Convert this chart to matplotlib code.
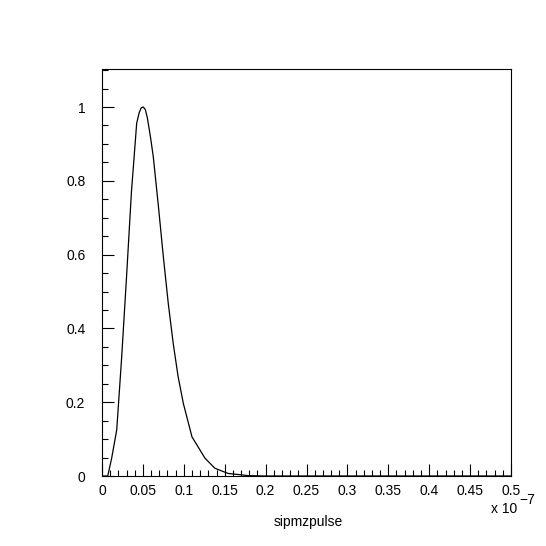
import numpy as np
import matplotlib
matplotlib.use("Agg")
import matplotlib.pyplot as plt
from matplotlib.ticker import MultipleLocator, FuncFormatter

plt.rcParams['font.family'] = ['Liberation Sans', 'DejaVu Sans']

# pulse shape, time in units of 1e-7 s
t = [0.0, 0.007, 0.0118, 0.018, 0.024, 0.030, 0.036, 0.0424, 0.0455, 0.048,
     0.0505, 0.053, 0.0555, 0.0595, 0.0627, 0.069, 0.075, 0.081, 0.087, 0.093,
     0.0994, 0.110, 0.126, 0.138, 0.154, 0.179, 0.2, 0.3, 0.4, 0.5]
amp = [0.0, 0.0, 0.048, 0.125, 0.32, 0.54, 0.77, 0.956, 0.985, 0.998,
       1.0, 0.993, 0.97, 0.915, 0.865, 0.73, 0.594, 0.468, 0.36, 0.27,
       0.197, 0.106, 0.048, 0.021, 0.007, 0.001, 0.0, 0.0, 0.0, 0.0]

fig = plt.figure(figsize=(5.46, 5.46), dpi=100)
ax = fig.add_axes([102/546, 70/546, 409/546, 407/546])

ax.plot(t, amp, color='black', linewidth=0.9)

ax.set_xlim(0, 0.5)
ax.set_ylim(0, 1.103)
ax.xaxis.set_major_locator(MultipleLocator(0.05))
ax.xaxis.set_minor_locator(MultipleLocator(0.01))
ax.yaxis.set_major_locator(MultipleLocator(0.2))
ax.yaxis.set_minor_locator(MultipleLocator(0.05))
fmt = FuncFormatter(lambda v, p: '%g' % round(v, 2))
ax.xaxis.set_major_formatter(fmt)
ax.yaxis.set_major_formatter(fmt)

ax.tick_params(which='both', direction='in', top=False, right=False, labelsize=10)
ax.tick_params(which='major', length=8.5, width=0.8)
ax.tick_params(which='minor', length=4.3, width=0.8)
ax.tick_params(axis='x', pad=6)
ax.tick_params(axis='y', pad=12)
for s in ax.spines.values():
    s.set_linewidth(0.8)

# exponent of the x axis, drawn ROOT-style
fig.text(491/546, 1 - 509/546, 'x 10', fontsize=10, va='center', ha='left')
fig.text(519/546, 1 - 500/546, '\u22127', fontsize=10, va='center', ha='left')
fig.text(308/546, 1 - 522/546, 'sipmzpulse', fontsize=10, va='center', ha='center')

fig.savefig('out.png', dpi=100)
